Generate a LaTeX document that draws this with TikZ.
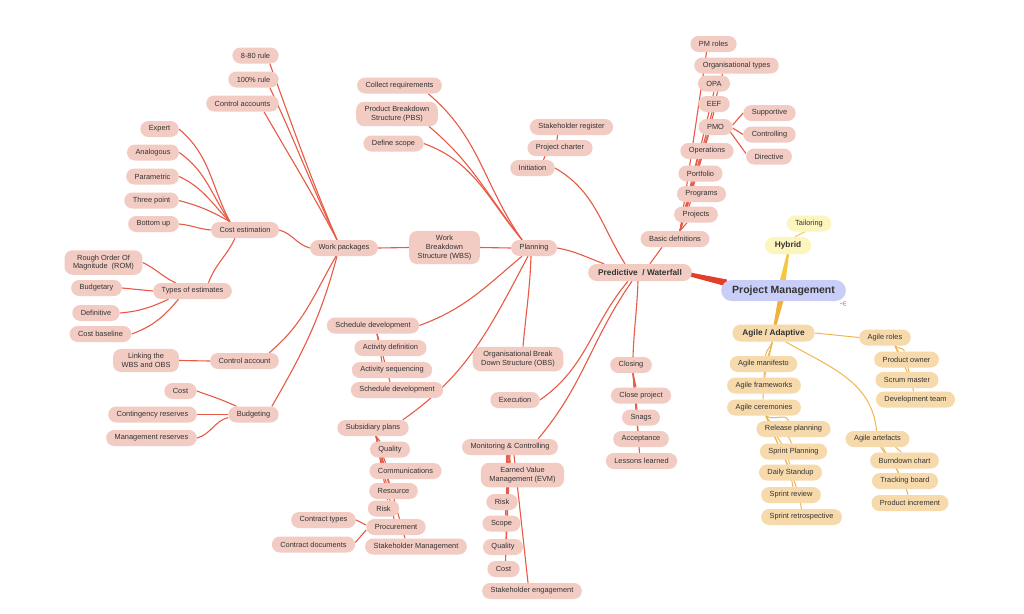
\documentclass[tikz,border=0pt]{standalone}
\usepackage{fontspec}
\setmainfont{Liberation Sans}
\definecolor{pinkF}{HTML}{F2CBC3}
\definecolor{redL}{HTML}{E85A46}
\definecolor{thickR}{HTML}{E23F2A}
\definecolor{agF}{HTML}{F6DAAB}
\definecolor{agL}{HTML}{F2B650}
\definecolor{hyF}{HTML}{FCF5BE}
\definecolor{hyL}{HTML}{F4CD4A}
\definecolor{pmF}{HTML}{C8CEF8}
\definecolor{txt}{HTML}{333333}
\definecolor{agBand}{HTML}{F1B23C}
\definecolor{hyBand}{HTML}{F5C843}
\pgfdeclarelayer{canvaslayer}
\pgfdeclarelayer{edgelayer}
\pgfsetlayers{canvaslayer,edgelayer,main}
\tikzset{
  rn/.style={fill=pinkF, text=txt, rounded corners=8pt, inner xsep=8.5pt, inner ysep=4.5pt,
    minimum height=16pt, align=center, font=\fontsize{7.4}{8.6}\selectfont},
  an/.style={rn, fill=agF},
  hn/.style={rn, fill=hyF},
  bold1/.style={font=\bfseries\fontsize{8.3}{10}\selectfont, inner xsep=10pt, minimum height=17pt, rounded corners=8.5pt},
  pmn/.style={fill=pmF, text=txt, rounded corners=10.5pt, inner xsep=11pt, inner ysep=3pt,
    minimum height=21pt, font=\bfseries\fontsize{10.5}{12}\selectfont},
  rl/.style={draw=redL, line width=1.1pt},
  al/.style={draw=agL, line width=1pt},
  hl/.style={draw=hyL, line width=1pt},
}
\begin{document}
\begin{tikzpicture}[x=1pt,y=1pt]
\useasboundingbox (0,0) rectangle (1024,-613);
\begin{pgfonlayer}{canvaslayer}
\fill[white] (0,0) rectangle (1024,-613);
\end{pgfonlayer}

% ---------- central ----------
\node[pmn] (pm) at (783.5,-290.5) {Project Management};
\node[rn,bold1] (pred) at (640,-272.5) {Predictive~ / Waterfall};
\node[hn,bold1] (hy) at (788,-245.5) {Hybrid};
\node[hn] (tl) at (809,-223.5) {Tailoring};
\node[an,bold1] (ag) at (773.5,-333) {Agile / Adaptive};

% ---------- work packages branch ----------
\node[rn] (r880) at (255.5,-55.5) {8-80 rule};
\node[rn] (r100) at (253.5,-79.5) {100\% rule};
\node[rn] (cas) at (242.5,-103.5) {Control accounts};
\node[rn] (exp) at (159.5,-129) {Expert};
\node[rn] (anl) at (153,-152.5) {Analogous};
\node[rn] (par) at (152.5,-176.5) {Parametric};
\node[rn] (thr) at (151.5,-200.5) {Three point};
\node[rn] (bot) at (153.5,-224) {Bottom up};
\node[rn] (ce) at (245,-230) {Cost estimation};
\node[rn] (wp) at (344,-248) {Work packages};
\node[rn] (rom) at (103.5,-262.5) {Rough Order Of\\Magnitude~ (ROM)};
\node[rn] (bud) at (96.5,-288) {Budgetary};
\node[rn] (te) at (192.5,-291) {Types of estimates};
\node[rn] (dfn) at (96,-313) {Definitive};
\node[rn] (cbl) at (100.5,-334) {Cost baseline};
\node[rn] (lnk) at (146,-360.5) {Linking the\\WBS and OBS};
\node[rn] (cac) at (244.5,-361) {Control account};
\node[rn] (cst) at (180.5,-391) {Cost};
\node[rn] (cnt) at (152.5,-414.5) {Contingency reserves};
\node[rn] (bdg) at (253.5,-414.5) {Budgeting};
\node[rn] (mgr) at (151.5,-438) {Management reserves};

% ---------- planning ----------
\node[rn] (wbs) at (444.5,-247.5) {Work\\Breakdown\\Structure (WBS)};
\node[rn] (plan) at (534,-248) {Planning};
\node[rn] (crq) at (399.5,-85.5) {Collect requirements};
\node[rn] (pbs) at (397,-114) {Product Breakdown\\Structure (PBS)};
\node[rn] (dsc) at (393.5,-143.5) {Define scope};
\node[rn] (sd1) at (373,-325.5) {Schedule development};
\node[rn] (ad) at (390.5,-348) {Activity definition};
\node[rn] (asq) at (392,-370) {Activity sequencing};
\node[rn] (sd2) at (397,-390) {Schedule development};
\node[rn] (obs) at (518,-359) {Organisational Break\\Down Structure (OBS)};
\node[rn] (sp) at (373,-428) {Subsidiary plans};
\node[rn] (q1) at (390,-449.5) {Quality};
\node[rn] (com) at (405.5,-471) {Communications};
\node[rn] (res) at (393.5,-491) {Resource};
\node[rn] (rk1) at (383.5,-508.5) {Risk};
\node[rn] (prc) at (396,-527) {Procurement};
\node[rn] (ctt) at (323.5,-520) {Contract types};
\node[rn] (cdc) at (313.5,-544.5) {Contract documents};
\node[rn] (stm) at (416,-546.5) {Stakeholder Management};

% ---------- initiation ----------
\node[rn] (sr) at (571.5,-127) {Stakeholder register};
\node[rn] (pc) at (560,-148) {Project charter};
\node[rn] (ini) at (532.5,-168) {Initiation};

% ---------- basic definitions ----------
\node[rn] (pmr) at (713.5,-44) {PM roles};
\node[rn] (ot) at (736.5,-65.5) {Organisational types};
\node[rn] (opa) at (714,-83.5) {OPA};
\node[rn] (eef) at (714,-104) {EEF};
\node[rn] (pmo) at (715.5,-127) {PMO};
\node[rn] (sup) at (769.5,-113) {Supportive};
\node[rn] (ctl) at (769.5,-134.5) {Controlling};
\node[rn] (dir) at (769,-156.5) {Directive};
\node[rn] (ops) at (707,-151) {Operations};
\node[rn] (prt) at (700.5,-173.5) {Portfolio};
\node[rn] (prg) at (701.5,-194) {Programs};
\node[rn] (prj) at (696,-214.5) {Projects};
\node[rn] (bas) at (675,-239) {Basic defnitions};

% ---------- execution / monitoring / closing ----------
\node[rn] (exe) at (515,-400) {Execution};
\node[rn] (mc) at (510,-447) {Monitoring \& Controlling};
\node[rn] (evm) at (522.5,-475) {Earned Value\\Management (EVM)};
\node[rn] (rk2) at (502,-502) {Risk};
\node[rn] (scp) at (501.5,-523.5) {Scope};
\node[rn] (q2) at (503,-547) {Quality};
\node[rn] (cs2) at (503.5,-569) {Cost};
\node[rn] (se) at (532,-591) {Stakeholder engagement};
\node[rn] (clo) at (631,-365) {Closing};
\node[rn] (cp) at (641,-395.5) {Close project};
\node[rn] (sng) at (641,-417.5) {Snags};
\node[rn] (acc) at (641,-439) {Acceptance};
\node[rn] (ll) at (641.5,-461) {Lessons learned};

% ---------- agile ----------
\node[an] (rol) at (885,-337.5) {Agile roles};
\node[an] (po) at (906.5,-359.5) {Product owner};
\node[an] (sm) at (907,-380) {Scrum master};
\node[an] (dt) at (915.5,-399.5) {Development team};
\node[an] (am) at (763.5,-364) {Agile manifesto};
\node[an] (af) at (764,-385.5) {Agile frameworks};
\node[an] (ac) at (764,-407.5) {Agile ceremonies};
\node[an] (rp) at (793.5,-429) {Release planning};
\node[an] (spl) at (793.5,-451.5) {Sprint Planning};
\node[an] (ds) at (790.5,-472.5) {Daily Standup};
\node[an] (srv) at (791,-495) {Sprint review};
\node[an] (sre) at (801.5,-517) {Sprint retrospective};
\node[an] (art) at (877.5,-439) {Agile artefacts};
\node[an] (bdc) at (904.5,-460.5) {Burndown chart};
\node[an] (tbd) at (905,-481) {Tracking board};
\node[an] (pin) at (910,-503) {Product increment};

\node[font=\fontsize{6}{6}\selectfont, text=black!75, inner sep=0pt] (ic) at (843.5,-303.5) {-$\in$};

% ================= connectors =================
\begin{pgfonlayer}{edgelayer}
% thick main branches
\fill[thickR] ([xshift=-2pt]pred.east) -- ([xshift=6pt,yshift=11pt]pm.west)
  -- ([xshift=6pt,yshift=4pt]pm.west) -- ([xshift=-2pt,yshift=-4pt]pred.east) -- cycle;
\fill[hyBand] ([xshift=-1pt,yshift=1pt]hy.south) -- ([xshift=1.2pt,yshift=1pt]hy.south)
  -- ([xshift=2pt,yshift=-2pt]pm.north) -- ([xshift=-4pt,yshift=-2pt]pm.north) -- cycle;
\fill[agBand] ([xshift=-5.5pt,yshift=2pt]pm.south) -- ([xshift=0.5pt,yshift=2pt]pm.south)
  -- ([xshift=3pt,yshift=-1pt]ag.north) -- ([xshift=0pt,yshift=-1pt]ag.north) -- cycle;
\draw[hl] ([xshift=7pt]hy.north) -- ([xshift=-4pt]tl.south);

% work packages
\draw[rl] ([xshift=-7pt]wp.north) to[out=113,in=-70] ([xshift=-9pt]r880.south east);
\draw[rl] ([xshift=-7pt]wp.north) to[out=115,in=-65] ([xshift=-9pt]r100.south east);
\draw[rl] ([xshift=-7pt]wp.north) to[out=118,in=-60] ([xshift=-15pt]cas.south east);
\draw[rl] (wp.west) to[out=165,in=-15] (ce.east);
\draw[rl] ([xshift=-8pt]wp.south) to[out=-120,in=40] ([xshift=-10pt]cac.north east);
\draw[rl] ([xshift=-7pt]wp.south) to[out=-105,in=60] ([xshift=-7pt]bdg.north east);
% cost estimation
\draw[rl] ([xshift=-15pt]ce.north) to[out=118,in=-40] (exp.east);
\draw[rl] ([xshift=-15pt]ce.north) to[out=125,in=-35] (anl.east);
\draw[rl] ([xshift=-15pt]ce.north) to[out=135,in=-25] (par.east);
\draw[rl] ([xshift=-15pt]ce.north) to[out=150,in=-15] (thr.east);
\draw[rl] (ce.west) to[out=175,in=-5] (bot.east);
\draw[rl] ([xshift=-10pt]ce.south) to[out=-115,in=70] ([xshift=16pt]te.north);
% types of estimates
\draw[rl] ([xshift=-17pt]te.north) to[out=155,in=-25] (rom.east);
\draw[rl] (te.west) -- (bud.east);
\draw[rl] ([xshift=-24pt]te.south) to[out=-155,in=5] (dfn.east);
\draw[rl] ([xshift=-14pt]te.south) to[out=-130,in=20] (cbl.east);
% control account, budgeting
\draw[rl] (cac.west) -- (lnk.east);
\draw[rl] ([xshift=-17pt]bdg.north) to[out=155,in=-20] (cst.east);
\draw[rl] (bdg.west) -- (cnt.east);
\draw[rl] ([yshift=-3pt]bdg.west) to[out=-165,in=15] (mgr.east);
% WBS / planning
\draw[rl] (wbs.west) -- (wp.east);
\draw[rl] (plan.west) -- (wbs.east);
\draw[rl] ([xshift=-12pt]plan.north) to[out=125,in=-40] ([xshift=-14pt]crq.south east);
\draw[rl] ([xshift=-12pt]plan.north) to[out=128,in=-40] ([xshift=-9pt]pbs.south east);
\draw[rl] ([xshift=-12pt]plan.north) to[out=130,in=-20] (dsc.east);
\draw[rl] ([xshift=-12pt]plan.south) to[out=-140,in=20] (sd1.east);
\draw[rl] ([xshift=-6pt]plan.south) to[out=-118,in=35] ([xshift=-6pt]sp.north east);
\draw[rl] ([xshift=-3pt]plan.south) to[out=-92,in=85] ([xshift=5pt]obs.north);
% schedule development
\draw[rl] ([xshift=4pt]sd1.south) -- ([xshift=-12pt]ad.north);
\draw[rl] ([xshift=4pt]sd1.south) -- ([xshift=-10pt]asq.north);
\draw[rl] ([xshift=4pt]sd1.south) -- ([xshift=-7pt]sd2.north);
% subsidiary plans
\draw[rl] ([xshift=3pt]sp.south) -- ([xshift=-10pt]q1.north);
\draw[rl] ([xshift=3pt]sp.south) -- ([xshift=-20pt]com.north);
\draw[rl] ([xshift=3pt]sp.south) -- ([xshift=-5pt]res.north);
\draw[rl] ([xshift=3pt]sp.south) -- ([xshift=4pt]rk1.north);
\draw[rl] ([xshift=3pt]sp.south) -- ([xshift=-2pt]prc.north);
\draw[rl] ([xshift=3pt]sp.south) -- ([xshift=-11pt]stm.north);
\draw[rl] ([yshift=2pt]prc.west) -- (ctt.east);
\draw[rl] ([yshift=-3pt]prc.west) -- ([yshift=2pt]cdc.east);
% predictive
\draw[rl] ([xshift=-36pt]pred.north) to[out=160,in=-10] (plan.east);
\draw[rl] ([xshift=-15pt]pred.north) to[out=122,in=-30] (ini.east);
\draw[rl] ([xshift=10pt]pred.north) -- ([xshift=-13pt]bas.south);
\draw[rl] ([xshift=-12pt]pred.south) to[out=-130,in=35] (exe.east);
\draw[rl] ([xshift=-8pt]pred.south) to[out=-125,in=50] ([xshift=-20pt]mc.north east);
\draw[rl] ([xshift=-2pt]pred.south) to[out=-92,in=88] ([xshift=2pt]clo.north);
% initiation
\draw[rl] ([xshift=11pt]ini.north) -- ([xshift=-15pt]pc.south);
\draw[rl] ([xshift=-3pt]pc.north) -- ([xshift=-14pt]sr.south);
% basic definitions
\draw[rl] ([xshift=5pt]bas.north) -- ([xshift=-7pt]pmr.south);
\draw[rl] ([xshift=5pt]bas.north) -- ([xshift=-14pt]ot.south);
\draw[rl] ([xshift=5pt]bas.north) -- (opa.south);
\draw[rl] ([xshift=5pt]bas.north) -- (eef.south);
\draw[rl] ([xshift=5pt]bas.north) -- ([xshift=-7pt]pmo.south);
\draw[rl] ([xshift=5pt]bas.north) -- ([xshift=-10pt]ops.south);
\draw[rl] ([xshift=5pt]bas.north) -- ([xshift=-9pt]prt.south);
\draw[rl] ([xshift=5pt]bas.north) -- ([xshift=-11pt]prg.south);
\draw[rl] ([xshift=5pt]bas.north) -- ([xshift=-9pt]prj.south);
\draw[rl] ([yshift=2pt]pmo.east) -- (sup.west);
\draw[rl] ([yshift=-1pt]pmo.east) -- (ctl.west);
\draw[rl] ([xshift=-3pt,yshift=-4pt]pmo.east) -- ([yshift=3pt]dir.west);
% closing
\draw[rl] ([xshift=2pt]clo.south) -- ([xshift=-5pt]cp.north);
\draw[rl] ([xshift=2pt]clo.south) -- ([xshift=-4pt]sng.north);
\draw[rl] ([xshift=2pt]clo.south) -- ([xshift=-3pt]acc.north);
\draw[rl] ([xshift=2pt]clo.south) -- ([xshift=-2pt]ll.north);
% monitoring & controlling
\draw[rl] ([xshift=-2pt]mc.south) -- ([xshift=-12pt]evm.north);
\draw[rl] ([xshift=-3pt]mc.south) -- ([xshift=5pt]rk2.north);
\draw[rl] ([xshift=-2pt]mc.south) -- ([xshift=4pt]scp.north);
\draw[rl] ([xshift=-1pt]mc.south) -- ([xshift=3pt]q2.north);
\draw[rl] (mc.south) -- ([xshift=2pt]cs2.north);
\draw[rl] ([xshift=4pt]mc.south) -- ([xshift=-4pt]se.north);

% agile
\draw[al] ([xshift=-1pt]ag.south) to[out=-110,in=85] ([xshift=2pt]am.north);
\draw[al] ([xshift=-1pt]ag.south) to[out=-105,in=88] (af.north);
\draw[al] ([xshift=-1pt]ag.south) to[out=-102,in=90] ([xshift=-1pt]ac.north);
\draw[al] (ag.east) -- (rol.west);
\draw[al] ([xshift=12pt]ag.south) to[out=-30,in=95] ([xshift=-1pt]art.north);
\draw[al] ([xshift=10pt]rol.south) to[out=-60,in=100] ([xshift=-2pt]po.north);
\draw[al] ([xshift=10pt]rol.south) to[out=-65,in=100] ([xshift=2pt]sm.north);
\draw[al] ([xshift=10pt]rol.south) to[out=-70,in=100] ([xshift=-2pt]dt.north);
\draw[al] ([xshift=2pt]ac.south) to[out=-40,in=110] ([xshift=-5pt]rp.north);
\draw[al] ([xshift=2pt]ac.south) to[out=-65,in=105] ([xshift=-2pt]spl.north);
\draw[al] ([xshift=2pt]ac.south) to[out=-70,in=100] ([xshift=-1pt]ds.north);
\draw[al] ([xshift=2pt]ac.south) to[out=-70,in=100] ([xshift=2pt]srv.north);
\draw[al] ([xshift=2pt]ac.south) to[out=-70,in=100] (sre.north);
\draw[al] ([xshift=18pt]art.south) -- ([xshift=-3pt]bdc.north);
\draw[al] ([xshift=3pt]art.south) to[out=-55,in=105] ([xshift=-7pt]tbd.north);
\draw[al] ([xshift=5pt]art.south) to[out=-60,in=105] ([xshift=-2pt]pin.north);
\end{pgfonlayer}
\end{tikzpicture}
\end{document}
